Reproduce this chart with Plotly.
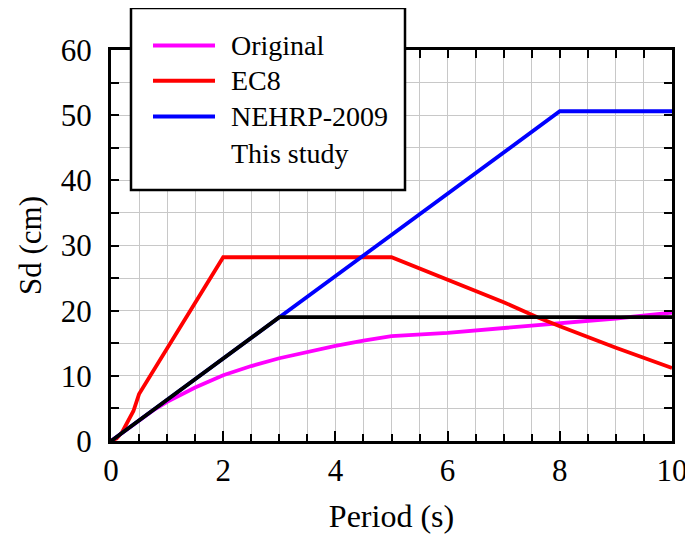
import plotly.graph_objects as go

# Data
orig_x = [0, 0.25, 0.5, 0.75, 1.0, 1.5, 2, 2.5, 3, 3.5, 4, 4.5, 5, 6, 7, 8, 9, 10]
orig_y = [0, 1.6, 3.2, 4.7, 6.0, 8.2, 10.1, 11.5, 12.7, 13.7, 14.6, 15.4, 16.1, 16.6, 17.3, 18.0, 18.8, 19.7]

ec8_x = [0, 0.1, 0.2, 0.3, 0.4, 0.5, 2, 5, 6, 7, 7.6, 8, 9, 10]
ec8_y = [0, 0.4, 1.4, 2.9, 4.6, 7.2, 28.2, 28.2, 24.7, 21.3, 19.0, 17.6, 14.3, 11.2]

nehrp_x = [0, 3, 8, 10]
nehrp_y = [0, 19.0, 50.6, 50.6]

study_x = [0, 3, 10]
study_y = [0, 19.0, 19.0]

legend_names = ["Original", "EC8", "NEHRP-2009", "This study"]
legend_colors = ["#ff00ff", "#ff0000", "#0000ff", None]

x_labels = [0, 2, 4, 6, 8, 10]
y_labels = [0, 10, 20, 30, 40, 50, 60]

FONT = "Liberation Serif, Times New Roman, serif"
LW = 3.8

fig = go.Figure()
fig.add_trace(go.Scatter(x=orig_x, y=orig_y, mode="lines", line=dict(color="#ff00ff", width=LW), showlegend=False))
fig.add_trace(go.Scatter(x=ec8_x, y=ec8_y, mode="lines", line=dict(color="#ff0000", width=LW), showlegend=False))
fig.add_trace(go.Scatter(x=nehrp_x, y=nehrp_y, mode="lines", line=dict(color="#0000ff", width=LW), showlegend=False))
fig.add_trace(go.Scatter(x=study_x, y=study_y, mode="lines", line=dict(color="#000000", width=LW), showlegend=False))
# invisible trace for top axis
fig.add_trace(go.Scatter(x=[0, 10], y=[0, 0], xaxis="x2", mode="lines",
                         line=dict(color="rgba(0,0,0,0)"), showlegend=False, hoverinfo="skip"))

fig.update_layout(
    width=693, height=538,
    margin=dict(l=103, r=29, t=42, b=105, autoexpand=False),
    paper_bgcolor="white", plot_bgcolor="white",
    font=dict(family=FONT, size=31, color="black"),
    xaxis=dict(
        range=[0, 10], tickvals=x_labels, ticks="inside", ticklen=10, tickwidth=2, tickcolor="black",
        showline=True, linecolor="black", linewidth=3, mirror=False,
        showgrid=True, gridcolor="#c8c8c8", gridwidth=1,
        minor=dict(dtick=0.5, ticks="inside", ticklen=7, tickwidth=2, tickcolor="black",
                   showgrid=True, gridcolor="#c8c8c8", gridwidth=1),
        title=dict(text="Period (s)", font=dict(size=32), standoff=18),
        tickfont=dict(size=31), zeroline=False, ticklabelstandoff=0,
    ),
    xaxis2=dict(
        range=[0, 10], overlaying="x", side="top", dtick=0.5, ticks="inside", ticklen=8,
        tickwidth=2, tickcolor="black", showticklabels=False, showgrid=False,
        showline=True, linecolor="black", linewidth=3, zeroline=False,
    ),
    yaxis=dict(
        range=[0, 60], tickvals=y_labels, ticks="inside", ticklen=8, tickwidth=2, tickcolor="black",
        showline=True, linecolor="black", linewidth=3, mirror="allticks",
        showgrid=True, gridcolor="#c8c8c8", gridwidth=1,
        minor=dict(dtick=5, ticks="inside", ticklen=8, tickwidth=2, tickcolor="black",
                   showgrid=True, gridcolor="#c8c8c8", gridwidth=1),
        title=dict(text="Sd (cm)", font=dict(size=31), standoff=10),
        tickfont=dict(size=31), zeroline=False, ticklabelstandoff=10,
    ),
    showlegend=False,
)

# Manual legend box (paper coords; page pixels mapped onto plot area 111..672 x 50..441)
W, H = 561.0, 391.0
def px(xp):
    return (xp - 111) / W
def py(yp):
    return (441 - yp) / H

shapes = [dict(type="rect", xref="paper", yref="paper", x0=px(131), x1=px(405), y0=py(190), y1=py(8),
               line=dict(color="black", width=2.5), fillcolor="white", layer="above")]
annotations = []
rows = [45.5, 80.7, 116.5, 153.5]
for name, col, yr in zip(legend_names, legend_colors, rows):
    if col is not None:
        shapes.append(dict(type="line", xref="paper", yref="paper", x0=px(153), x1=px(215),
                           y0=py(yr), y1=py(yr), line=dict(color=col, width=4), layer="above"))
    annotations.append(dict(xref="paper", yref="paper", x=px(229), y=py(yr), text=name, showarrow=False,
                            xanchor="left", yanchor="middle", font=dict(family=FONT, size=28, color="black")))
fig.update_layout(shapes=shapes, annotations=annotations)

fig.write_html("out.html")
